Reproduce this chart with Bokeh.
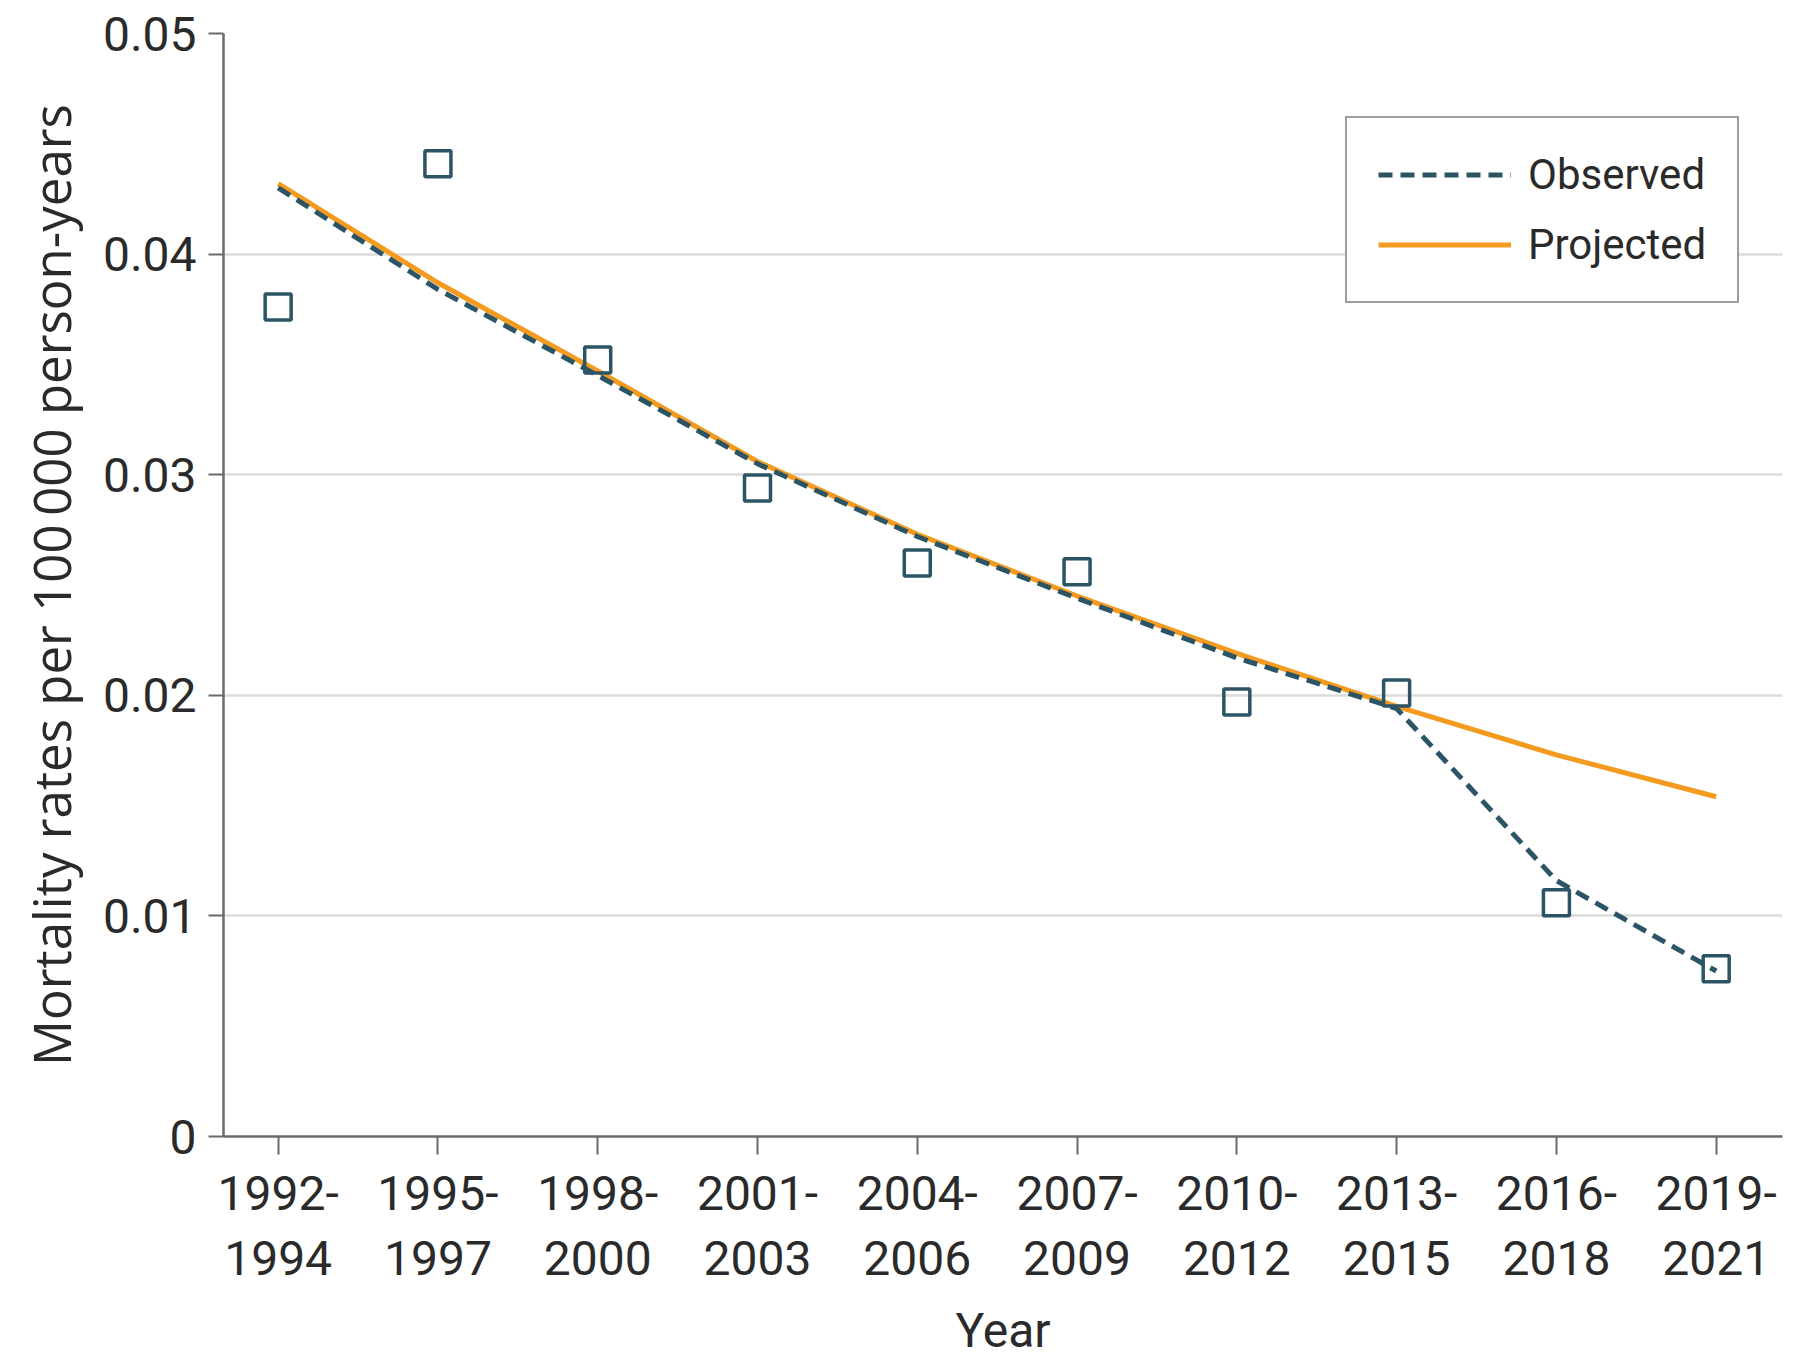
from bokeh.plotting import figure
from bokeh.models import Range1d, FixedTicker, Legend, LegendItem, Title
from bokeh.embed import file_html
from bokeh.resources import INLINE

# ---- data ----
period_labels = ["1992-\n1994", "1995-\n1997", "1998-\n2000", "2001-\n2003", "2004-\n2006",
                 "2007-\n2009", "2010-\n2012", "2013-\n2015", "2016-\n2018", "2019-\n2021"]
observed_rate = [0.0376, 0.0441, 0.0352, 0.0294, 0.0260, 0.0256, 0.0197, 0.0201, 0.0106, 0.0076]
observed_trend = [0.0430, 0.0384, 0.0345, 0.0305, 0.0272, 0.0244, 0.0217, 0.0194, 0.0116, 0.0075]
projected_trend = [0.0432, 0.0387, 0.0347, 0.0306, 0.0273, 0.0245, 0.0219, 0.0195, 0.0173, 0.0154]
y_ticks = [0, 0.01, 0.02, 0.03, 0.04, 0.05]
y_tick_labels = ["0", "0.01", "0.02", "0.03", "0.04", "0.05"]
x_title = "Year"
y_title = "Mortality rates per 100\u2009000 person-years"

x_idx = list(range(len(period_labels)))

TEAL = "#2b5565"
ORANGE = "#f39a1f"
TXT = "#2a2a2a"
FONT = "Roboto"

p = figure(width=1792, height=1369, output_backend="svg", toolbar_location=None,
           x_range=Range1d(-0.342, 9.415), y_range=Range1d(0, 0.05),
           min_border_left=223, min_border_right=10, min_border_top=33, min_border_bottom=233)
p.outline_line_color = None
p.background_fill_color = "white"

proj = p.line(x_idx, projected_trend, line_color=ORANGE, line_width=5)
obs = p.line(x_idx, observed_trend, line_color=TEAL, line_width=5, line_dash="14 8")
p.scatter(x_idx, observed_rate, marker="square", size=26, line_color=TEAL, line_width=3.5,
          fill_color=None)

# axes
p.xaxis.ticker = FixedTicker(ticks=x_idx)
p.xaxis.major_label_overrides = {i: lab for i, lab in zip(x_idx, period_labels)}
p.yaxis.ticker = FixedTicker(ticks=y_ticks)
p.yaxis.major_label_overrides = {t: lab for t, lab in zip(y_ticks, y_tick_labels)}

for ax in (p.xaxis[0], p.yaxis[0]):
    ax.axis_line_color = "#6a6a6a"
    ax.axis_line_width = 2.5
    ax.major_tick_line_color = "#6a6a6a"
    ax.major_tick_line_width = 2
    ax.major_tick_in = 0
    ax.minor_tick_line_color = None
    ax.major_label_text_font = FONT
    ax.major_label_text_font_size = "48px"
    ax.major_label_text_color = TXT

p.xaxis.major_tick_out = 18
p.xaxis.major_label_standoff = 10
p.xaxis.major_label_text_line_height = 1.15

p.yaxis.major_tick_out = 15
p.yaxis.major_label_standoff = 12
p.yaxis.axis_label = y_title
p.yaxis.axis_label_text_font = "Open Sans"
p.yaxis.axis_label_text_font_size = "51px"
p.yaxis.axis_label_text_font_style = "normal"
p.yaxis.axis_label_text_color = TXT
p.yaxis.axis_label_standoff = 14

# x-axis title as a below-panel title
p.add_layout(Title(text=x_title, align="center", text_font=FONT, text_font_size="48px",
                   text_font_style="normal", text_color=TXT, standoff=18), "below")

p.xgrid.grid_line_color = None
p.ygrid.grid_line_color = "#dcdcdc"
p.ygrid.grid_line_width = 2.5

legend = Legend(items=[LegendItem(label="Observed", renderers=[obs]),
                       LegendItem(label="Projected", renderers=[proj])],
                location=(1122, 833), margin=0, padding=31, spacing=19,
                glyph_width=133, glyph_height=51, label_height=51, label_standoff=17,
                label_text_font=FONT, label_text_font_size="42px", label_text_color=TXT,
                border_line_color="#3a3a3a", border_line_width=2.5, background_fill_alpha=1)
p.add_layout(legend, "center")

open("out.html", "w").write(file_html(p, INLINE))
